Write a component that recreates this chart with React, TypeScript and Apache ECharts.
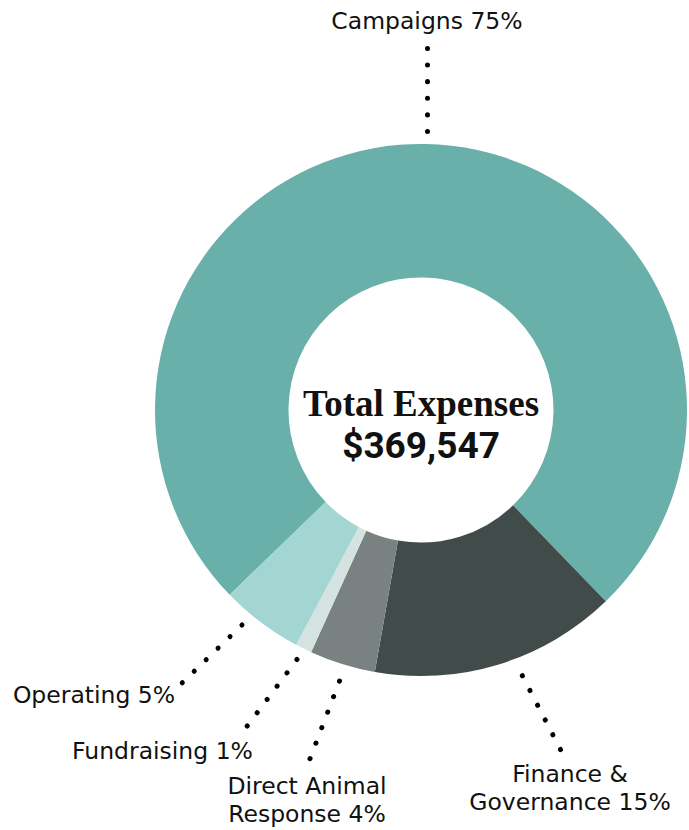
import React, { useEffect, useRef } from "react";
import * as echarts from "echarts";

const CATEGORIES = ["Campaigns", "Finance & Governance", "Direct Animal Response", "Fundraising", "Operating"];
const DISPLAY_NAMES = ["Campaigns", "Finance &\nGovernance", "Direct Animal\nResponse", "Fundraising", "Operating"];
const PERCENTS = [75, 15, 4, 1, 5];
const COLORS = ["#6AB0AA", "#414C4A", "#7A8281", "#D4E3E0", "#A3D5D3"];
const CENTER_TITLE = "Total Expenses";
const TOTAL = 369547;

// label placement (layout only)
const LABEL_LAYOUT = [
  { x: 427, y: 21, line: [[427.5, 131.5], [427.5, 89.5], [427.5, 47.5]] },
  { x: 570, y: 788, line: [[522.3, 675.7], [541.5, 712.8], [560.7, 750]] },
  { x: 307, y: 800, line: [[339.5, 681], [324.5, 720.5], [309.5, 760]] },
  { x: 162.5, y: 751, line: [[297, 659.5], [271.8, 693.2], [246.5, 727]] },
  { x: 94, y: 695, line: [[242, 625], [212, 654], [182, 683]] },
];

export default function App() {
  const ref = useRef<HTMLDivElement>(null);
  useEffect(() => {
    if (!ref.current) return;
    const chart = echarts.init(ref.current, null, { renderer: "svg" });
    chart.setOption({
      animation: false,
      backgroundColor: "#ffffff",
      graphic: [
        {
          type: "text",
          x: 421,
          y: 403,
          style: {
            text: CENTER_TITLE,
            fill: "#111111",
            font: "bold 37px 'Liberation Serif'",
            textAlign: "center",
            textVerticalAlign: "middle",
          },
        },
        {
          type: "text",
          x: 421,
          y: 445,
          style: {
            text: "$" + TOTAL.toLocaleString("en-US"),
            fill: "#111111",
            font: "bold 37px Roboto",
            textAlign: "center",
            textVerticalAlign: "middle",
          },
        },
      ],
      series: [
        {
          type: "pie",
          center: [421, 410],
          radius: [132.5, 266],
          startAngle: 224,
          clockwise: true,
          avoidLabelOverlap: false,
          itemStyle: { borderWidth: 0 },
          emphasis: { disabled: true },
          data: CATEGORIES.map((name, i) => ({
            name,
            value: PERCENTS[i],
            itemStyle: { color: COLORS[i] },
          })),
          label: {
            show: true,
            position: "outside",
            formatter: (p: any) => `${DISPLAY_NAMES[p.dataIndex]} ${p.percent.toFixed(0)}%`,
            color: "#111111",
            fontFamily: "DejaVu Sans",
            fontSize: 23.5,
            lineHeight: 28,
            align: "center",
          },
          labelLine: {
            show: true,
            smooth: false,
            lineStyle: {
              color: "#000000",
              width: 5,
              type: [0.1, 16.5],
              cap: "round",
            },
          },
          labelLayout: (params: any) => {
            const l = LABEL_LAYOUT[params.dataIndex];
            return {
              x: l.x,
              y: l.y,
              align: "center",
              verticalAlign: "middle",
              labelLinePoints: l.line,
            };
          },
        },
      ],
    });
    return () => chart.dispose();
  }, []);
  return (
    <div
      ref={ref}
      style={{ position: "fixed", left: 0, top: 0, width: 689, height: 830 }}
    />
  );
}
